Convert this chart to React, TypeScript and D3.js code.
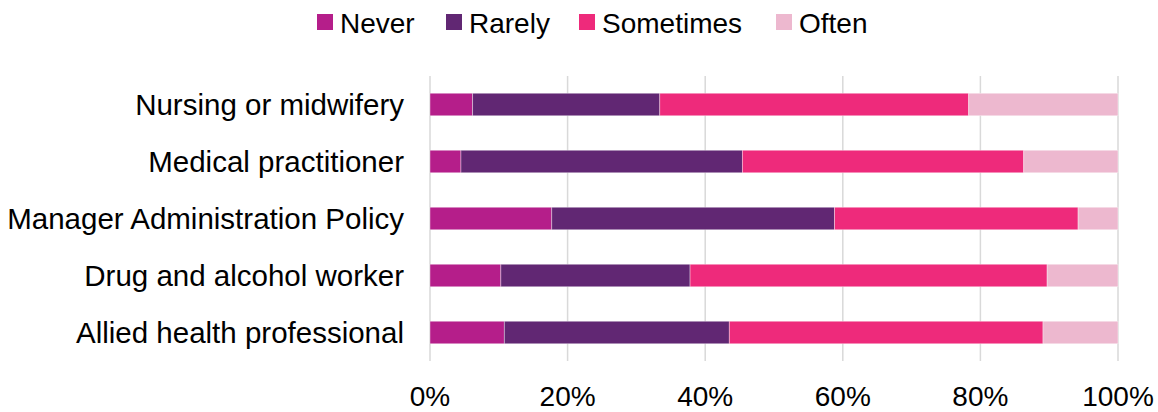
import React from "react";
import * as d3 from "d3";

const categories = [
  "Nursing or midwifery",
  "Medical practitioner",
  "Manager Administration Policy",
  "Drug and alcohol worker",
  "Allied health professional",
];
const seriesNames = ["Never", "Rarely", "Sometimes", "Often"];
const never = [6.2, 4.5, 17.7, 10.3, 10.8];
const rarely = [27.2, 40.9, 41.1, 27.5, 32.7];
const sometimes = [44.9, 40.9, 35.4, 51.9, 45.6];
const often = [21.7, 13.7, 5.8, 10.3, 10.9];
const colors = ["#B51E8A", "#612773", "#EE2A7B", "#EDB8CF"];
const tickValues = [0, 20, 40, 60, 80, 100];

const W = 1158;
const H = 412;
const FONT = "'Liberation Sans', Arial, sans-serif";

export default function App() {
  const rows = categories.map((c, i) => ({
    cat: c,
    Never: never[i],
    Rarely: rarely[i],
    Sometimes: sometimes[i],
    Often: often[i],
  }));
  const stack = d3.stack<any>().keys(seriesNames)(rows);
  const x = d3.scaleLinear().domain([0, 100]).range([430, 1118]);
  const y = d3
    .scaleBand<string>()
    .domain(categories)
    .range([76, 361])
    .paddingInner(0.605)
    .paddingOuter(0.3025);

  const legendX = [317, 446, 579, 776];

  return (
    <svg
      width={W}
      height={H}
      style={{ position: "absolute", left: 0, top: 0, display: "block" }}
      fontFamily={FONT}
    >
      <rect width={W} height={H} fill="#fff" />
      {/* legend */}
      {seriesNames.map((s, i) => (
        <g key={s}>
          <rect x={legendX[i]} y={14} width={16} height={16} fill={colors[i]} />
          <text x={legendX[i] + 23} y={33} fontSize={28} fill="#000">
            {s}
          </text>
        </g>
      ))}
      {/* grid */}
      {tickValues.map((t) => (
        <g key={t}>
          <line
            x1={x(t)}
            x2={x(t)}
            y1={76}
            y2={361}
            stroke="#D9D9D9"
            strokeWidth={1.5}
          />
          <text
            x={x(t)}
            y={406}
            fontSize={28}
            textAnchor="middle"
            fill="#000"
          >
            {t}%
          </text>
        </g>
      ))}
      {/* bars */}
      {stack.map((layer, si) => (
        <g key={layer.key} fill={colors[si]}>
          {layer.map((d: any, i: number) => (
            <rect
              key={i}
              x={x(d[0])}
              y={y(categories[i])!}
              width={x(d[1]) - x(d[0])}
              height={y.bandwidth()}
              stroke="#fff"
              strokeOpacity={0.5}
              strokeWidth={0.75}
            />
          ))}
        </g>
      ))}
      {/* category labels */}
      {categories.map((c) => (
        <text
          key={c}
          x={404}
          y={y(c)! + y.bandwidth() / 2 + 10}
          fontSize={29.5}
          textAnchor="end"
          fill="#000"
        >
          {c}
        </text>
      ))}
    </svg>
  );
}
